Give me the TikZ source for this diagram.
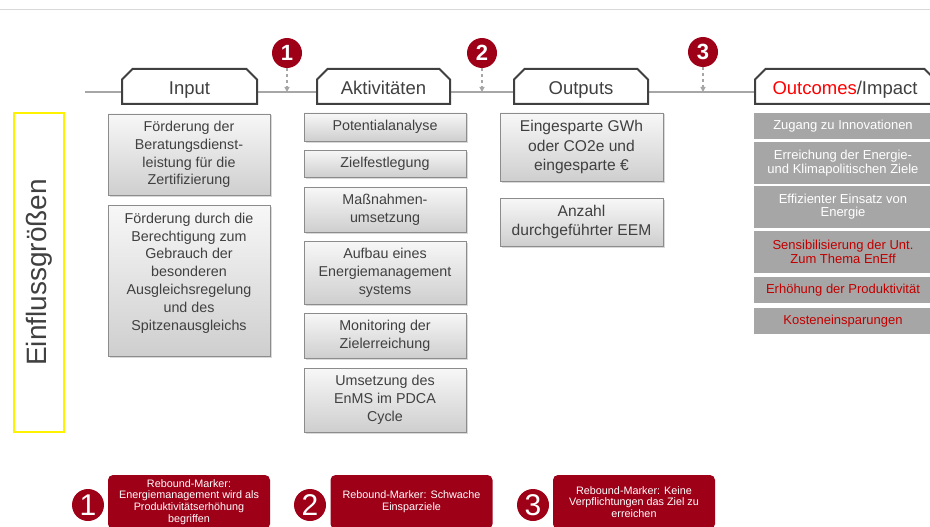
\documentclass[tikz,border=0pt]{standalone}
\usepackage{fontspec}
\setmainfont{Liberation Sans}
\usetikzlibrary{shapes.misc,shadows,arrows.meta}
\definecolor{markred}{RGB}{158,0,24}
\definecolor{outred}{RGB}{192,0,0}
\definecolor{textgray}{RGB}{64,64,64}
\definecolor{axisgray}{RGB}{166,166,166}
\definecolor{boxborder}{RGB}{140,140,140}
\definecolor{impactgray}{RGB}{166,166,166}
\begin{document}
\begin{tikzpicture}[x=1pt, y=-1pt]
  \tikzstyle{tab} = [chamfered rectangle, chamfered rectangle corners={north west, north east}, chamfered rectangle xsep=7pt, draw=textgray, fill=white, line width=2pt, minimum height=35pt, text height=19pt, text depth=2pt, text=textgray, font=\fontsize{18.5}{20}\selectfont]
  \tikzstyle{box} = [rectangle, draw=boxborder, top color=gray!6, bottom color=gray!38, drop shadow={shadow xshift=1.5pt, shadow yshift=-1.5pt, opacity=0.3}, align=center, text=textgray, inner sep=2pt]
  \tikzstyle{in_box} = [box, minimum width=162pt, font=\fontsize{14.3}{17.8}\selectfont]
  \tikzstyle{act_box} = [box, minimum width=162pt, font=\fontsize{14.3}{18}\selectfont]
  \tikzstyle{out_box} = [box, minimum width=163pt, font=\fontsize{15.6}{19.5}\selectfont]
  \tikzstyle{impact} = [rectangle, fill=impactgray, draw=white, line width=0.8pt, minimum width=180pt, align=center, text=white, inner sep=1pt, font=\fontsize{13}{13.5}\selectfont]
  \tikzstyle{marker} = [circle, fill=markred, text=white, minimum size=30pt, inner sep=0pt, font=\bfseries\fontsize{22}{22}\selectfont]
  \tikzstyle{big_marker} = [circle, fill=markred, text=white, minimum width=30pt, minimum height=32pt, inner sep=0pt, font=\fontsize{30}{30}\selectfont]
  \tikzstyle{rebound} = [rectangle, rounded corners=5pt, fill=markred, text=white, minimum width=162pt, minimum height=54pt, align=center, inner sep=1pt, font=\fontsize{10.8}{11.7}\selectfont]
  \tikzstyle{arrow} = [-{Triangle[length=5pt, width=5pt]}, dashed, draw=axisgray, line width=1.2pt]

  \useasboundingbox (0,0) rectangle (930,527);
  \clip (0,0) rectangle (930,527);

  \coordinate (top_l) at (0,9);
  \coordinate (top_r) at (930,9);
  \draw[gray!30, line width=0.8pt] (top_l) -- (top_r);

  % axis behind the tabs
  \coordinate (axis_l) at (85,92);
  \coordinate (axis_r) at (760,92);
  \draw[axisgray, line width=2.5pt] (axis_l) -- (axis_r);

  \node [tab, minimum width=135pt] at (189.5,86.5) (input) {Input};
  \node [tab, minimum width=133pt] at (383.5,86.5) (activities) {Aktivitäten};
  \node [tab, minimum width=134pt] at (581,86.5) (outputs) {Outputs};
  \node [tab, minimum width=180pt] at (845,86.5) (outcomes) {\textcolor{red}{Outcomes}/Impact};

  \node [marker] at (287,53) (m1) {1};
  \node [marker] at (482,53) (m2) {2};
  \node [marker] at (703,52) (m3) {3};

  \draw[arrow] (m1) -- (m1 |- axis_l);
  \draw[arrow] (m2) -- (m2 |- axis_l);
  \draw[arrow] (m3) -- (m3 |- axis_l);

  % Einflussgroessen
  \node [rectangle, draw=yellow, line width=2.5pt, minimum width=50pt, minimum height=319pt] at (39,272.5) (influence) {};
  \node [rotate=90, text=textgray, font=\fontsize{28}{28}\selectfont] at (influence) (influence_text) {Einflussgrößen};

  % Input
  \node [in_box, minimum height=81pt] at (189,154.5) (in_1) {Förderung der\\Beratungsdienst-\\leistung für die\\Zertifizierung};
  \node [in_box, minimum height=151pt] at (189,280.5) (in_2) {Förderung durch die\\Berechtigung zum\\Gebrauch der\\besonderen\\Ausgleichsregelung\\und des\\Spitzenausgleichs\\~};

  % Aktivitaeten
  \node [act_box, minimum height=28pt] at (385,127) (act_1) {Potentialanalyse};
  \node [act_box, minimum height=27pt] at (385,163.5) (act_2) {Zielfestlegung};
  \node [act_box, minimum height=45pt] at (385,209.5) (act_3) {Maßnahmen-\\umsetzung};
  \node [act_box, minimum height=63pt] at (385,272.5) (act_4) {Aufbau eines\\Energiemanagement\\systems};
  \node [act_box, minimum height=45pt] at (385,335.5) (act_5) {Monitoring der\\Zielerreichung};
  \node [act_box, minimum height=64pt] at (385,400) (act_6) {Umsetzung des\\EnMS im PDCA\\Cycle};

  % Outputs
  \node [out_box, minimum height=68pt] at (581.5,147) (out_1) {Eingesparte GWh\\oder CO2e und\\eingesparte €};
  \node [out_box, minimum height=48pt] at (581.5,222) (out_2) {Anzahl\\durchgeführter EEM};

  % Outcomes / Impact
  \node [impact, minimum height=27pt] at (843,126) (imp_1) {Zugang zu Innovationen};
  \node [impact, minimum height=43pt] at (843,163) (imp_2) {Erreichung der Energie-\\und Klimapolitischen Ziele};
  \node [impact, minimum height=43pt] at (843,206.5) (imp_3) {Effizienter Einsatz von\\Energie};
  \node [impact, minimum height=43pt, text=outred] at (843,252) (imp_4) {Sensibilisierung der Unt.\\Zum Thema EnEff};
  \node [impact, minimum height=27pt, text=outred] at (843,290) (imp_5) {Erhöhung der Produktivität};
  \node [impact, minimum height=27pt, text=outred] at (843,321) (imp_6) {Kosteneinsparungen};

  % Rebound-Marker
  \node [big_marker] at (88,505) (r1) {1};
  \node [big_marker] at (310,505) (r2) {2};
  \node [big_marker] at (533,505) (r3) {3};
  \node [rebound] at (189,502) (rb_1) {Rebound-Marker:\\Energiemanagement wird als\\Produktivitätserhöhung\\begriffen};
  \node [rebound] at (411.5,502) (rb_2) {Rebound-Marker: Schwache\\Einsparziele};
  \node [rebound] at (634,502) (rb_3) {Rebound-Marker: Keine\\Verpflichtungen das Ziel zu\\erreichen};
\end{tikzpicture}
\end{document}
